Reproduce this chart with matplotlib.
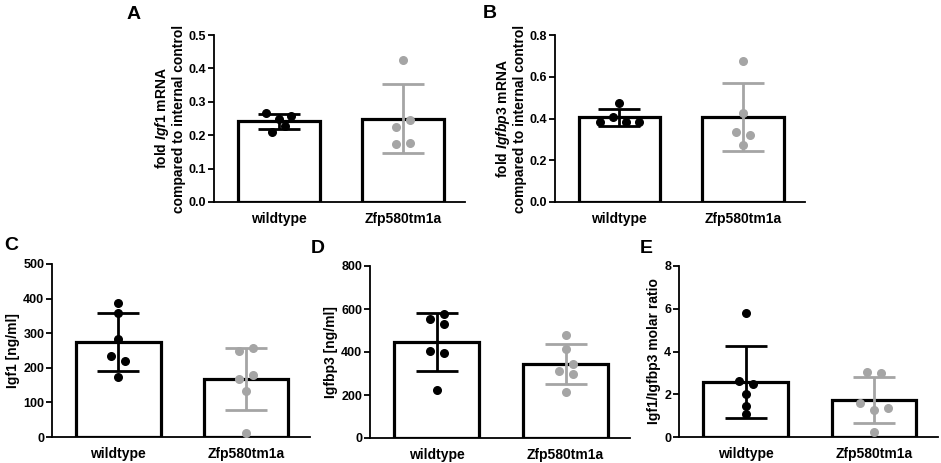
import matplotlib
matplotlib.use("Agg")
import matplotlib.pyplot as plt
import numpy as np

plt.rcParams['font.family'] = ['Liberation Sans', 'DejaVu Sans']
plt.rcParams['font.weight'] = 'bold'
plt.rcParams['mathtext.fontset'] = 'custom'
plt.rcParams['mathtext.rm'] = 'Liberation Sans:bold'
plt.rcParams['mathtext.it'] = 'Liberation Sans:italic:bold'

groups = ['wildtype', 'Zfp580tm1a']

# A - Igf1 mRNA
a_wt = [0.265, 0.248, 0.258, 0.210, 0.228]
a_ko = [0.425, 0.245, 0.225, 0.173, 0.178]
a_mean = [0.242, 0.249]
a_sd = [0.022, 0.103]

# B - Igfbp3 mRNA
b_wt = [0.384, 0.405, 0.472, 0.384, 0.384]
b_ko = [0.675, 0.427, 0.336, 0.323, 0.275]
b_mean = [0.406, 0.407]
b_sd = [0.040, 0.161]

# C - Igf1 serum
c_wt = [387, 358, 283, 233, 219, 173]
c_ko = [250, 258, 169, 178, 134, 13]
c_mean = [275, 167]
c_sd = [83, 90]

# D - Igfbp3 serum
d_wt = [553, 575, 530, 406, 394, 224]
d_ko = [480, 414, 344, 313, 298, 216]
d_mean = [447, 344]
d_sd = [134, 91]

# E - molar ratio
e_wt = [5.79, 2.64, 2.49, 1.99, 1.46, 1.09]
e_ko = [3.03, 2.98, 1.57, 1.38, 1.27, 0.22]
e_mean = [2.58, 1.74]
e_sd = [1.68, 1.09]

# horizontal scatter of the dots inside each column
a_jit = ([-0.10, 0, 0.10, -0.05, 0.05], [0, 0.055, -0.055, -0.055, 0.055])
b_jit = ([-0.16, -0.055, 0, 0.055, 0.16], [0, 0, -0.055, 0.055, 0])
c_jit = ([0, 0, 0, -0.055, 0.055, 0], [-0.055, 0.055, -0.055, 0.055, 0, 0])
d_jit = ([-0.055, 0.055, 0.055, -0.055, 0.055, 0], [0, 0, 0.055, -0.055, 0.055, 0])
e_jit = ([0, -0.055, 0.055, 0, 0, 0], [-0.055, 0.055, -0.11, 0.11, 0, 0])

GREY = '#a5a5a5'
W, H = 941, 463


def make_axes(fig, left, right, top, bottom):
    return fig.add_axes([left / W, (H - bottom) / H, (right - left) / W, (bottom - top) / H])


def draw_panel(ax, wt, ko, jit, means, sds, ymax, ystep, ylabel, fmt):
    x = np.arange(2)
    ax.bar(x, means, 0.66, color='white', edgecolor='black', linewidth=2.3, zorder=1)
    colors = ['black', GREY]
    for i in range(2):
        ax.errorbar(x[i], means[i], yerr=sds[i], color=colors[i], elinewidth=2.0,
                    capsize=15, capthick=2.0, zorder=2)
    ax.scatter(x[0] + np.array(jit[0]), wt, s=30, color='black', zorder=3, clip_on=False)
    ax.scatter(x[1] + np.array(jit[1]), ko, s=30, color=GREY, zorder=3, clip_on=False)

    ax.set_xlim(-0.52, 1.5)
    ax.set_ylim(0, ymax)
    ticks = np.arange(0, ymax + ystep / 2, ystep)
    ax.set_yticks(ticks)
    ax.set_yticklabels([fmt.format(t) for t in ticks])
    ax.set_xticks(x)
    ax.set_xticklabels(groups)
    ax.tick_params(axis='x', length=0, pad=7, labelsize=10)
    ax.tick_params(axis='y', length=4, width=1.3, pad=1.5, labelsize=9)
    for s in ['top', 'right']:
        ax.spines[s].set_visible(False)
    for s in ['left', 'bottom']:
        ax.spines[s].set_linewidth(1.3)
    ax.set_ylabel(ylabel, fontsize=10, fontweight='bold', labelpad=2, linespacing=1.05)


fig = plt.figure(figsize=(W / 100, H / 100), dpi=100)

ax_a = make_axes(fig, 214, 465, 35, 202)
draw_panel(ax_a, a_wt, a_ko, a_jit, a_mean, a_sd, 0.5, 0.1,
           'fold $\\mathit{Igf1}$ mRNA\ncompared to internal control', '{:.1f}')

ax_b = make_axes(fig, 555, 805, 35, 202)
draw_panel(ax_b, b_wt, b_ko, b_jit, b_mean, b_sd, 0.8, 0.2,
           'fold $\\mathit{Igfbp3}$ mRNA\ncompared to internal control', '{:.1f}')

ax_c = make_axes(fig, 52, 310, 264, 437)
draw_panel(ax_c, c_wt, c_ko, c_jit, c_mean, c_sd, 500, 100, 'Igf1 [ng/ml]', '{:.0f}')

ax_d = make_axes(fig, 370, 630, 266, 438)
draw_panel(ax_d, d_wt, d_ko, d_jit, d_mean, d_sd, 800, 200, 'Igfbp3 [ng/ml]', '{:.0f}')

ax_e = make_axes(fig, 679, 938, 266, 437)
draw_panel(ax_e, e_wt, e_ko, e_jit, e_mean, e_sd, 8, 2, 'Igf1/Igfbp3 molar ratio', '{:.0f}')

# panel letters
for letter, px, py in [('A', 127, 19), ('B', 483, 18), ('C', 4, 250), ('D', 311, 253), ('E', 640, 253)]:
    fig.text(px / W, (H - py) / H, letter, fontsize=14, fontweight='bold')

fig.savefig('out.png', dpi=100)
